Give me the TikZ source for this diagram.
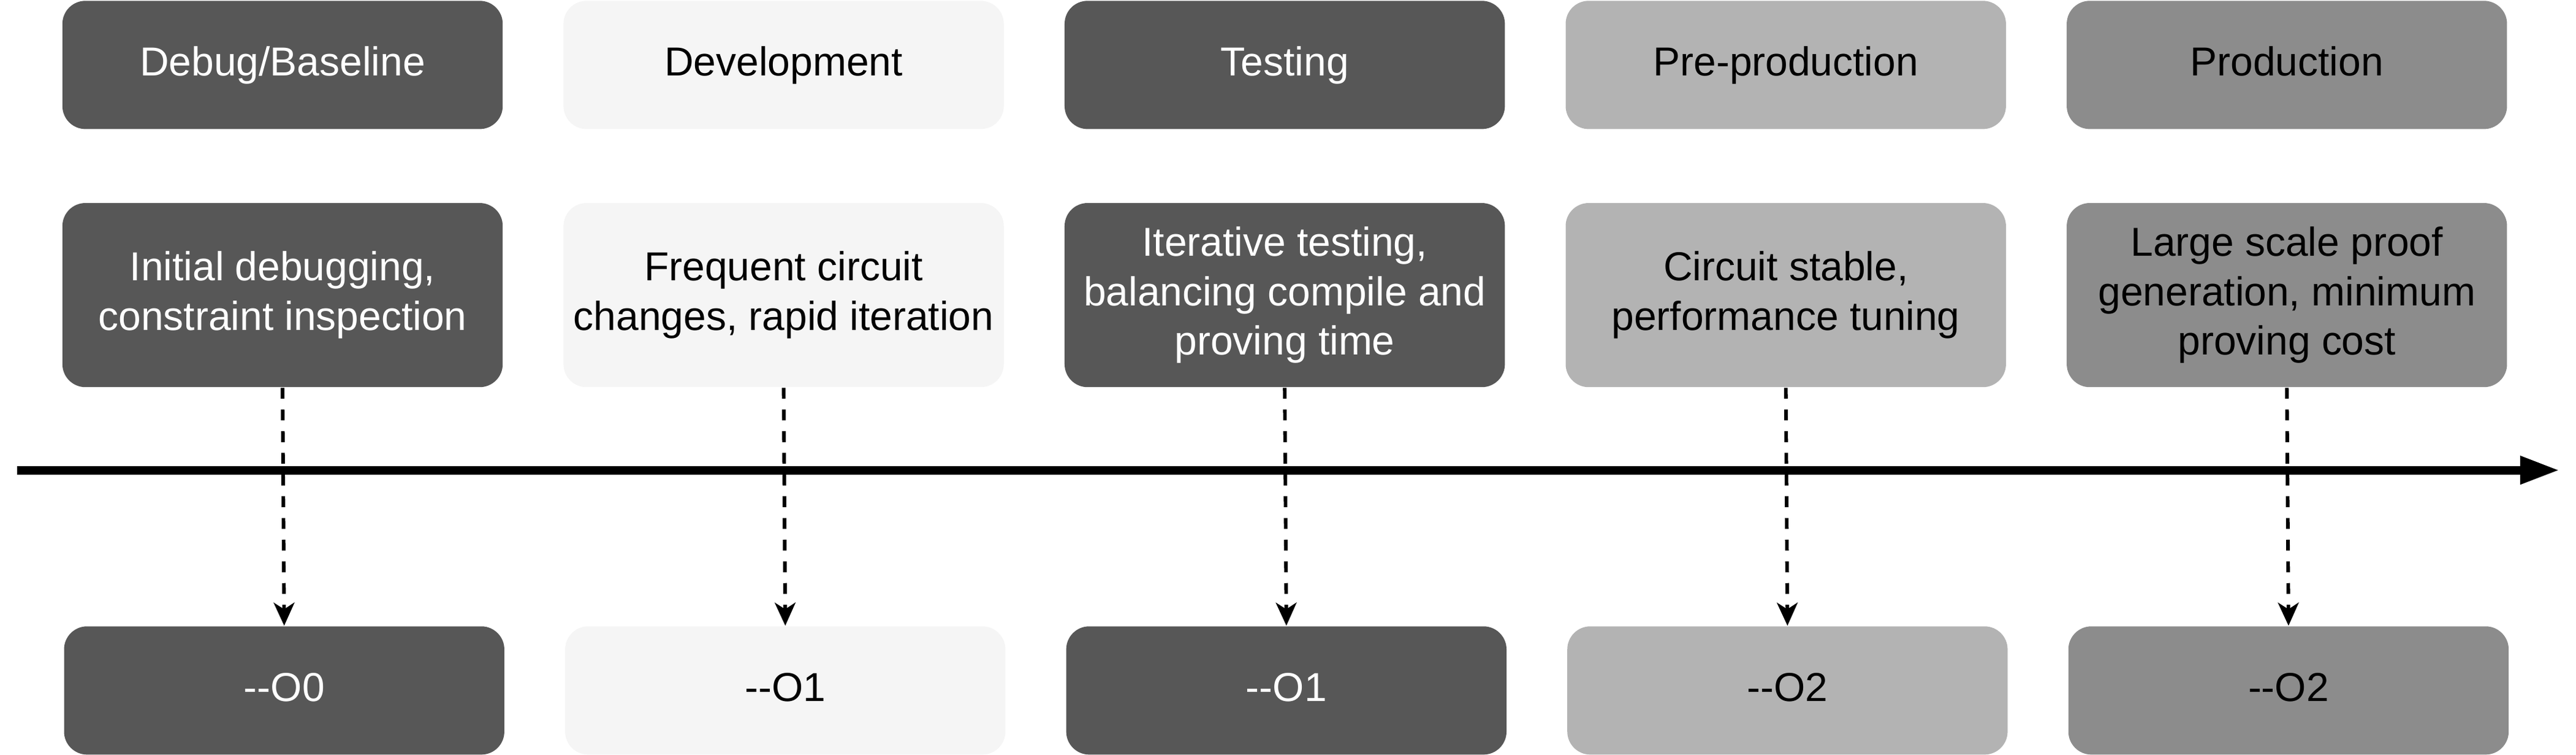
\documentclass[tikz,border=0pt]{standalone}
\usepackage{fontspec}
\setmainfont{Liberation Sans}
\usetikzlibrary{arrows.meta}
\definecolor{cdark}{HTML}{575757}
\definecolor{clight}{HTML}{F5F5F5}
\definecolor{cmid}{HTML}{B3B3B3}
\definecolor{cprod}{HTML}{8C8C8C}
\begin{document}
\begin{tikzpicture}[x=0.5pt,y=-0.5pt,
  box/.style={rectangle, rounded corners=7pt, draw=none, minimum width=134pt, inner sep=0pt, align=center, font=\fontsize{12.3}{15}\selectfont},
  topbox/.style={box, minimum height=39pt, text height=0.86em, text depth=0.2em},
  midbox/.style={box, minimum height=56pt},
  botbox/.style={box, minimum height=39pt, text height=0.86em, text depth=0.2em},
  dk/.style={fill=cdark, text=white},
  lt/.style={fill=clight, text=black},
  md/.style={fill=cmid, text=black},
  pr/.style={fill=cprod, text=black},
  dasharrow/.style={line width=1.1pt, dash pattern=on 3.3pt off 3.3pt, -{Stealth[length=7pt,width=6.3pt,inset=2pt]}},
  timeline/.style={line width=2.6pt, -{Triangle[length=12pt,width=8pt]}}
]
\useasboundingbox (0,0) rectangle (1568,459);
% top row
\node[topbox,dk] (t1) at (172,39.5) {Debug/Baseline};
\node[topbox,lt] (t2) at (477,39.5) {Development};
\node[topbox,dk] (t3) at (782,39.5) {Testing};
\node[topbox,md] (t4) at (1087,39.5) {Pre-production};
\node[topbox,pr] (t5) at (1392,39.5) {Production};
% middle row
\node[midbox,dk] (m1) at (172,179.5) {Initial debugging,\\constraint inspection};
\node[midbox,lt] (m2) at (477,179.5) {Frequent circuit\\changes, rapid iteration};
\node[midbox,dk] (m3) at (782,179.5) {Iterative testing,\\balancing compile and\\proving time};
\node[midbox,md] (m4) at (1087,179.5) {Circuit stable,\\performance tuning};
\node[midbox,pr] (m5) at (1392,179.5) {Large scale proof\\generation, minimum\\proving cost};
% bottom row
\node[botbox,dk] (b1) at (173,420) {-{}-O0};
\node[botbox,lt] (b2) at (478,420) {-{}-O1};
\node[botbox,dk] (b3) at (783,420) {-{}-O1};
\node[botbox,md] (b4) at (1088,420) {-{}-O2};
\node[botbox,pr] (b5) at (1393,420) {-{}-O2};
% timeline
\coordinate (ts) at (10.5,286);
\coordinate (te) at (1558,286);
\draw[timeline] (ts) -- (te);
% dashed connectors
\foreach \i in {1,...,5} {
  \draw[dasharrow] (m\i.south) -- (b\i.north);
}
\end{tikzpicture}
\end{document}
